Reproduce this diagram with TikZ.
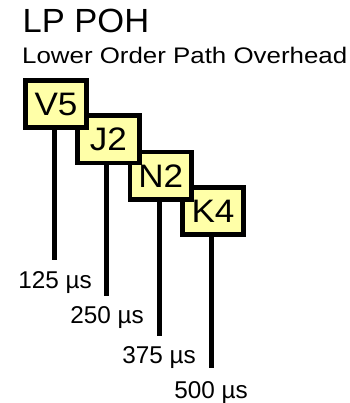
\documentclass[tikz,border=0pt]{standalone}
\usepackage{fontspec}
\setmainfont{Liberation Sans}
\definecolor{boxyellow}{RGB}{255,255,168}
\begin{document}
\begin{tikzpicture}[x=1pt,y=-1pt,
  tag/.style={draw=black, line width=4.8pt, fill=boxyellow, minimum width=61.5pt, minimum height=47.5pt, inner sep=0pt, font=\fontsize{32.5}{32.5}\selectfont},
  stem/.style={line width=4.8pt},
  time/.style={anchor=base, inner sep=0pt, font=\fontsize{24.3}{24.3}\selectfont}]
\useasboundingbox (0,0) rectangle (349,403);
\node[anchor=base west, inner sep=0pt, font=\fontsize{33.5}{33.5}\selectfont] (title) at (22.5,32.3) {\scalebox{1.03}[1]{LP POH}};
\node[anchor=base west, inner sep=0pt, font=\fontsize{22.5}{22.5}\selectfont] (sub) at (22,64) {\scalebox{1.15}[1]{Lower Order Path Overhead}};
% boxes, drawn back to front
\node[tag] (K4) at (213,211) {\scalebox{1.08}[1]{K4}};
\node[tag] (N2) at (160.7,175.8) {\scalebox{1.08}[1]{N2}};
\node[tag] (J2) at (108.4,139.3) {\scalebox{1.08}[1]{J2}};
\node[tag] (V5) at (56,104) {\scalebox{1.08}[1]{V5}};
% labels
\node[time] (t1) at (55,288) {125 µs};
\node[time] (t2) at (107,323.3) {250 µs};
\node[time] (t3) at (159,363.3) {375 µs};
\node[time] (t4) at (211,398) {500 µs};
% stem ends
\coordinate (e1) at (54.5,260);
\coordinate (e2) at (106.8,296);
\coordinate (e3) at (159.2,335.5);
\coordinate (e4) at (211.3,368.3);
\draw[stem] (V5.south -| e1) -- (e1);
\draw[stem] (J2.south -| e2) -- (e2);
\draw[stem] ([yshift=2pt]N2.south -| e3) -- (e3);
\draw[stem] (K4.south -| e4) -- (e4);
\end{tikzpicture}
\end{document}
